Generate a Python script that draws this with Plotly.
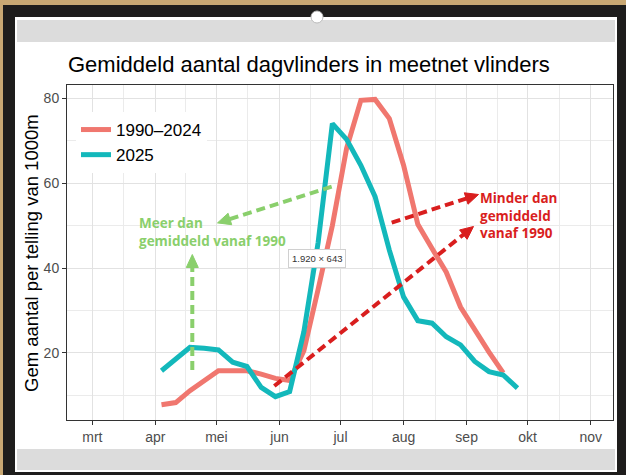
import plotly.graph_objects as go

# ---------------- data ----------------
dates = ["2025-04-04", "2025-04-11", "2025-04-18", "2025-04-25", "2025-05-02", "2025-05-09",
         "2025-05-16", "2025-05-23", "2025-05-30", "2025-06-06", "2025-06-13", "2025-06-20",
         "2025-06-27", "2025-07-04", "2025-07-11", "2025-07-18", "2025-07-25", "2025-08-01",
         "2025-08-08", "2025-08-15", "2025-08-22", "2025-08-29", "2025-09-05", "2025-09-12",
         "2025-09-19", "2025-09-26"]

avg_1990_2024 = [7.8, 8.3, 11.1, 13.3, 15.8, 15.8, 15.8, 15.0, 14.0, 13.5, 20.5, 35.0, 50.0,
                 68.2, 79.5, 79.7, 75.2, 64.2, 50.3, 44.6, 39.0, 30.8, 25.4, 20.2, 15.3]

year_2025 = [15.8, 18.5, 21.3, 21.1, 20.7, 17.8, 16.8, 11.9, 9.7, 10.9, 25.0, 46.0, 74.0,
             70.3, 64.2, 56.8, 44.2, 33.2, 27.6, 27.0, 23.8, 21.9, 18.0, 15.6, 14.8, 11.7]

month_ticks = ["2025-03-01", "2025-04-01", "2025-05-01", "2025-06-01", "2025-07-01",
               "2025-08-01", "2025-09-01", "2025-10-01", "2025-11-01"]
month_labels = ["mrt", "apr", "mei", "jun", "jul", "aug", "sep", "okt", "nov"]
month_minor = ["2025-03-16 12:00", "2025-04-16", "2025-05-16 12:00", "2025-06-16",
               "2025-07-16 12:00", "2025-08-16 12:00", "2025-09-16", "2025-10-16 12:00"]

y_ticks = [20, 40, 60, 80]
y_minor = [10, 30, 50, 70]

# ---------------- layout geometry (pixels) ----------------
W, H = 626, 475
PL, PR, PT, PB = 67, 613, 85, 420


def px(x):
    return (x - PL) / (PR - PL)


def py(y):
    return (PB - y) / (PB - PT)


RED = "#F0776F"
CYAN = "#13B8BB"
GREEN = "#8ACF6C"
DRED = "#D91E1E"

fig = go.Figure()
fig.add_trace(go.Scatter(x=dates[:len(avg_1990_2024)], y=avg_1990_2024, mode="lines",
                         name="1990\u20132024", line=dict(color=RED, width=5)))
fig.add_trace(go.Scatter(x=dates, y=year_2025, mode="lines", name="2025",
                         line=dict(color=CYAN, width=5)))

shapes = []
# background frame of the screenshot
shapes.append(dict(type="rect", xref="paper", yref="paper", x0=px(0), x1=px(W), y0=py(0), y1=py(5),
                   fillcolor="#C9A873", line=dict(width=0), layer="below"))
shapes.append(dict(type="rect", xref="paper", yref="paper", x0=px(0), x1=px(3), y0=py(0), y1=py(H),
                   fillcolor="#C9A873", line=dict(width=0), layer="below"))
shapes.append(dict(type="rect", xref="paper", yref="paper", x0=px(15), x1=px(617), y0=py(17), y1=py(472),
                   fillcolor="white", line=dict(width=0), layer="below"))
shapes.append(dict(type="rect", xref="paper", yref="paper", x0=px(17), x1=px(615), y0=py(20), y1=py(42),
                   fillcolor="#DCDCDC", line=dict(width=0), layer="below"))
shapes.append(dict(type="rect", xref="paper", yref="paper", x0=px(17), x1=px(615), y0=py(449), y1=py(470),
                   fillcolor="#DCDCDC", line=dict(width=0), layer="below"))
shapes.append(dict(type="circle", xref="paper", yref="paper", x0=px(311), x1=px(323), y0=py(11), y1=py(23),
                   fillcolor="white", line=dict(color="#BBBBBB", width=1), layer="above"))


def arrow(x0, y0, x1, y1, color, width=4, dash="9px,5px", head=13, half=6):
    import math
    dx, dy = x1 - x0, y1 - y0
    L = math.hypot(dx, dy)
    ux, uy = dx / L, dy / L
    bx, by = x1 - ux * head, y1 - uy * head
    nx, ny = -uy, ux
    shapes.append(dict(type="line", xref="paper", yref="paper",
                       x0=px(x0), y0=py(y0), x1=px(bx + ux * 2), y1=py(by + uy * 2),
                       line=dict(color=color, width=width, dash=dash)))
    p1 = (x1, y1)
    p2 = (bx + nx * half, by + ny * half)
    p3 = (bx - nx * half, by - ny * half)
    path = "M {} {} L {} {} L {} {} Z".format(px(p1[0]), py(p1[1]), px(p2[0]), py(p2[1]),
                                              px(p3[0]), py(p3[1]))
    shapes.append(dict(type="path", xref="paper", yref="paper", path=path,
                       fillcolor=color, line=dict(color=color, width=1)))


arrow(331.7, 186.7, 217.5, 222.9, GREEN)
arrow(192.3, 370, 192.3, 254.5, GREEN)
arrow(391.7, 222.7, 478.5, 194.5, DRED)
arrow(274.3, 386, 473.5, 226.5, DRED)

annotations = [
    dict(text="<b>Meer dan<br>gemiddeld vanaf 1990</b>", xref="paper", yref="paper",
         x=px(137), y=py(232), xanchor="left", yanchor="middle", align="left", showarrow=False,
         font=dict(family="Open Sans", size=13.5, color=GREEN)),
    dict(text="<b>Minder dan<br>gemiddeld<br>vanaf 1990</b>", xref="paper", yref="paper",
         x=px(478), y=py(215), xanchor="left", yanchor="middle", align="left", showarrow=False,
         font=dict(family="Open Sans", size=13.5, color=DRED)),
    dict(text="1.920 \u00d7 643", xref="paper", yref="paper", x=px(317), y=py(258.5),
         xanchor="center", yanchor="middle", showarrow=False, bgcolor="white",
         bordercolor="#D0D0D0", borderwidth=1, borderpad=3,
         font=dict(family="Liberation Sans", size=9.5, color="#333333")),
    dict(text="Gem aantal per telling van 1000m", xref="paper", yref="paper",
         x=px(31), y=py(253), textangle=-90, xanchor="center", yanchor="middle",
         showarrow=False, font=dict(family="Liberation Sans", size=18.5, color="black")),
]

fig.update_layout(
    width=W, height=H,
    margin=dict(l=PL, r=W - PR, t=PT, b=H - PB, pad=0),
    paper_bgcolor="#1E1D1C",
    plot_bgcolor="white",
    title=dict(text="Gemiddeld aantal dagvlinders in meetnet vlinders", xref="container",
               x=68 / W, xanchor="left", yref="container", y=1 - 64 / H, yanchor="middle",
               font=dict(family="Liberation Sans", size=22, color="black")),
    font=dict(family="Liberation Sans"),
    shapes=shapes,
    annotations=annotations,
    showlegend=True,
    legend=dict(x=px(76), y=py(112), xanchor="left", yanchor="top", bgcolor="white",
                font=dict(family="Liberation Sans", size=17, color="black"),
                itemwidth=30, tracegroupgap=0),
    xaxis=dict(type="date", range=["2025-02-16 13:00", "2025-11-11 23:00"],
               tickmode="array", tickvals=month_ticks, ticktext=month_labels,
               ticks="outside", ticklen=4, tickcolor="#333333", tickwidth=1,
               tickfont=dict(family="Liberation Sans", size=14, color="#4D4D4D"),
               showgrid=True, gridcolor="#E2E2E2", gridwidth=1.3,
               minor=dict(tickmode="array", tickvals=month_minor, showgrid=True,
                          gridcolor="#EBEBEB", gridwidth=1, ticks=""),
               showline=True, linecolor="#333333", linewidth=1, mirror=True, zeroline=False),
    yaxis=dict(range=[4.2, 83.1], tickmode="array", tickvals=y_ticks,
               ticks="outside", ticklen=4, tickcolor="#333333", tickwidth=1,
               tickfont=dict(family="Liberation Sans", size=14, color="#4D4D4D"),
               showgrid=True, gridcolor="#E2E2E2", gridwidth=1.3,
               minor=dict(tickmode="array", tickvals=y_minor, showgrid=True,
                          gridcolor="#EBEBEB", gridwidth=1, ticks=""),
               showline=True, linecolor="#333333", linewidth=1, mirror=True, zeroline=False),
)

fig.write_html("out.html", config={"displayModeBar": False},
               post_script="document.body.style.margin='0';document.body.style.overflow='hidden';")
